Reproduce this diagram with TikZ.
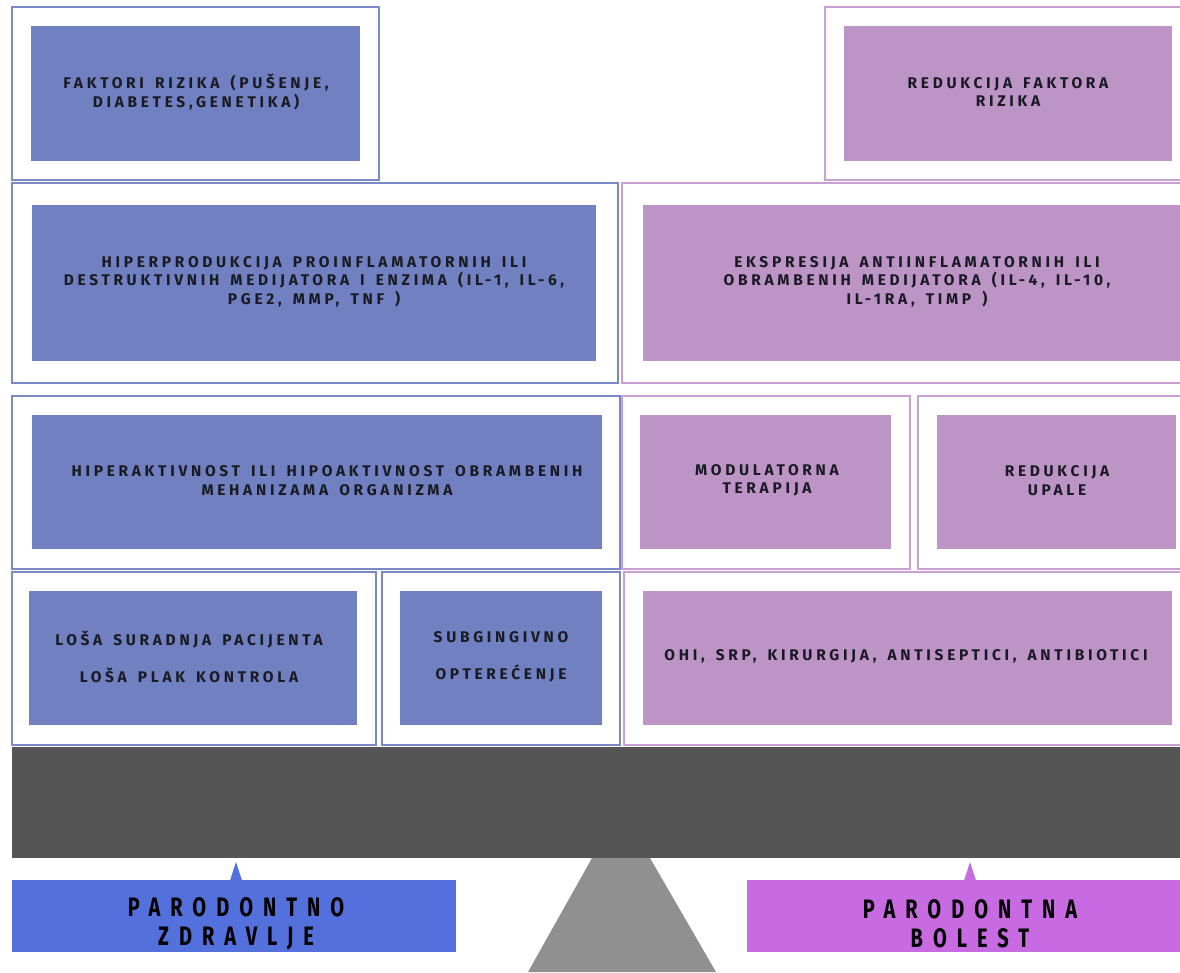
\documentclass[tikz,border=0pt]{standalone}
\usepackage{fontspec}
\setmainfont{Fira Sans}
\newfontfamily\boxfont{Fira Sans}[LetterSpace=24, WordSpace=1.5]
\newfontfamily\labfont{Fira Sans}[LetterSpace=50]
\definecolor{bfill}{HTML}{7080C0}
\definecolor{bframe}{HTML}{7A88C8}
\definecolor{pfill}{HTML}{BC94C6}
\definecolor{pframe}{HTML}{C8A0D2}
\definecolor{bar}{HTML}{555555}
\definecolor{stand}{HTML}{909090}
\definecolor{blab}{HTML}{5470DD}
\definecolor{plab}{HTML}{C86BE3}
\definecolor{ink}{HTML}{1A1A24}
\newcommand\rbox[6]{\node[#6, minimum width={(#4-#2)*0.75pt}, minimum height={(#5-#3)*0.75pt}] (#1) at ({(#2+#4)/2},{(#3+#5)/2}) {};}
\tikzset{
  base/.style={rectangle, inner sep=0pt, outer sep=0pt},
  bout/.style={base, draw=bframe, line width=1.8pt, fill=white},
  pout/.style={base, draw=pframe, line width=1.8pt, fill=white},
  bin/.style={base, fill=bfill},
  pin/.style={base, fill=pfill},
  btxt/.style={inner sep=0pt, align=center, text=ink, font=\boxfont\bfseries\fontsize{11.6}{13.9}\selectfont},
  wtxt/.style={btxt, font=\boxfont\bfseries\fontsize{11.6}{27.75}\selectfont},
  labtxt/.style={inner sep=0pt, align=center, text=black, font=\labfont\bfseries\fontsize{20}{22}\selectfont},
}
\begin{document}
\begin{tikzpicture}[x=0.75pt,y=-0.75pt]
\useasboundingbox (0,0) rectangle (1180,972);
% row 1
\rbox{o1}{12}{7}{379}{180}{bout}
\rbox{i1}{31}{26}{360}{161}{bin}
\rbox{o2}{825}{7}{1195}{180}{pout}
\rbox{i2}{844}{26}{1172}{161}{pin}
% row 2
\rbox{o3}{12}{183}{618}{383}{bout}
\rbox{i3}{32}{205}{596}{361}{bin}
\rbox{o4}{622}{183}{1195}{383}{pout}
\rbox{i4}{643}{205}{1195}{361}{pin}
% row 3
\rbox{o5}{12}{396}{620}{569}{bout}
\rbox{i5}{32}{415}{602}{549}{bin}
\rbox{o6}{622}{396}{910}{569}{pout}
\rbox{i6}{640}{415}{891}{549}{pin}
\rbox{o7}{918}{396}{1195}{569}{pout}
\rbox{i7}{937}{415}{1176}{549}{pin}
% row 4
\rbox{o8}{12}{572}{376}{745}{bout}
\rbox{i8}{29}{591}{357}{725}{bin}
\rbox{o9}{382}{572}{620}{745}{bout}
\rbox{i9}{400}{591}{602}{725}{bin}
\rbox{o10}{624}{572}{1195}{745}{pout}
\rbox{i10}{643}{591}{1172}{725}{pin}
% texts
\node[btxt] (t1) at (196,92) {FAKTORI RIZIKA (PUŠENJE,\\DIABETES,GENETIKA)};
\node[btxt] (t2) at (1008,92) {REDUKCIJA FAKTORA\\RIZIKA};
\node[btxt] (t3) at (314,281.5) {HIPERPRODUKCIJA PROINFLAMATORNIH ILI\\DESTRUKTIVNIH MEDIJATORA I ENZIMA (IL-1, IL-6,\\PGE2, MMP, TNF )};
\node[btxt] (t4) at (917,281.5) {EKSPRESIJA ANTIINFLAMATORNIH ILI\\OBRAMBENIH MEDIJATORA (IL-4, IL-10,\\IL-1RA, TIMP )};
\node[btxt] (t5) at (327,480.5) {HIPERAKTIVNOST ILI HIPOAKTIVNOST OBRAMBENIH\\MEHANIZAMA ORGANIZMA};
\node[btxt] (t6) at (767,480.5) {MODULATORNA\\TERAPIJA};
\node[btxt] (t7) at (1057,480.5) {REDUKCIJA\\UPALE};
\node[wtxt] (t8) at (189,657) {LOŠA SURADNJA PACIJENTA\\LOŠA PLAK KONTROLA};
\node[wtxt] (t9) at (501,657) {SUBGINGIVNO\\OPTEREĆENJE};
\node[btxt] (t10) at (906,656) {OHI, SRP, KIRURGIJA, ANTISEPTICI, ANTIBIOTICI};
% balance
\rbox{beam}{12}{747}{1195}{858}{base, fill=bar}
\fill[stand] (592,858) -- (650,858) -- (716,972) -- (528,972) -- cycle;
\rbox{lab1}{12}{880}{456}{952}{base, fill=blab}
\rbox{lab2}{747}{880}{1195}{952}{base, fill=plab}
\fill[blab] (230,880.5) -- (236,862) -- (242,880.5) -- cycle;
\fill[plab] (964,880.5) -- (970,862) -- (976,880.5) -- cycle;
\node[labtxt] (l1) at (236,923.5) {\scalebox{0.75}[1]{PARODONTNO}\\\scalebox{0.75}[1]{ZDRAVLJE}};
\node[labtxt] (l2) at (970,923.5) {\scalebox{0.75}[1]{PARODONTNA}\\\scalebox{0.75}[1]{BOLEST}};
\end{tikzpicture}
\end{document}
